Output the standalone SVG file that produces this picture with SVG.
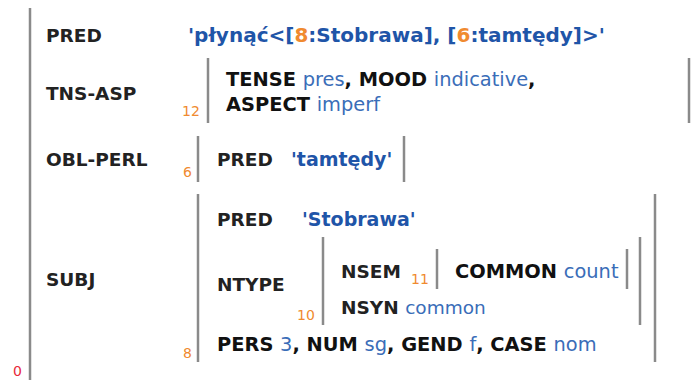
<svg xmlns="http://www.w3.org/2000/svg" width="694" height="380" viewBox="0 0 694 380">
<style>
text{font-family:"DejaVu Sans",Verdana,sans-serif;font-size:19px;fill:#111}
.a{font-weight:bold;fill:#222;font-size:18.5px}
.b{font-weight:bold;font-size:19.4px}
.pv{font-weight:bold;fill:#1f55a8;font-size:19px}
.big{font-size:20px}
.v{font-weight:normal;fill:#3a6db8}
.i{font-size:14px;fill:#f08a30;font-weight:normal}
.r{font-size:14px;fill:#e8283a}
.br{stroke:#8a8a8a;stroke-width:2.5;fill:none}
</style>
<rect width="694" height="380" fill="#fff"/>
<g id="f0">
<line class="br" x1="30" y1="8" x2="30" y2="380"/>
<text class="r" x="13" y="376">0</text>
<text class="a" x="46" y="42">PRED</text>
<text class="pv big" x="188" y="42">'płynąć&lt;[<tspan style="fill:#f08a30">8</tspan>:Stobrawa], [<tspan style="fill:#f08a30">6</tspan>:tamtędy]&gt;'</text>
<text class="a" x="46" y="100">TNS-ASP</text>
<text class="a" x="46" y="166">OBL-PERL</text>
<text class="a" x="46" y="286">SUBJ</text>
</g>
<g id="f12">
<line class="br" x1="208" y1="58" x2="208" y2="123"/>
<line class="br" x1="689" y1="58" x2="689" y2="123"/>
<text class="i" x="182" y="116">12</text>
<text class="b" x="226" y="86">TENSE <tspan class="v">pres</tspan>, MOOD <tspan class="v">indicative</tspan>,</text>
<text class="b" x="226" y="111">ASPECT <tspan class="v">imperf</tspan></text>
</g>
<g id="f6">
<line class="br" x1="198" y1="136" x2="198" y2="182"/>
<line class="br" x1="404" y1="136" x2="404" y2="182"/>
<text class="i" x="183" y="177">6</text>
<text class="a" x="217" y="166">PRED</text>
<text class="pv" x="291" y="166">'tamtędy'</text>
</g>
<g id="f8">
<line class="br" x1="198" y1="194" x2="198" y2="362"/>
<line class="br" x1="655" y1="194" x2="655" y2="362"/>
<text class="i" x="183" y="358">8</text>
<text class="a" x="217" y="226">PRED</text>
<text class="pv" x="302" y="226">'Stobrawa'</text>
<text class="a" x="217" y="291">NTYPE</text>
<text class="b" x="217" y="351">PERS <tspan class="v">3</tspan>, NUM <tspan class="v">sg</tspan>, GEND <tspan class="v">f</tspan>, CASE <tspan class="v">nom</tspan></text>
</g>
<g id="f10">
<line class="br" x1="323" y1="237" x2="323" y2="325"/>
<line class="br" x1="640" y1="237" x2="640" y2="325"/>
<text class="i" x="297" y="320">10</text>
<text class="a" x="341" y="278">NSEM</text>
<text class="i" x="411" y="284">11</text>
<text class="a" x="341" y="314">NSYN <tspan class="v">common</tspan></text>
</g>
<g id="f11">
<line class="br" x1="437" y1="249" x2="437" y2="289"/>
<line class="br" x1="627" y1="249" x2="627" y2="289"/>
<text class="b" x="455" y="278">COMMON <tspan class="v">count</tspan></text>
</g>
</svg>
